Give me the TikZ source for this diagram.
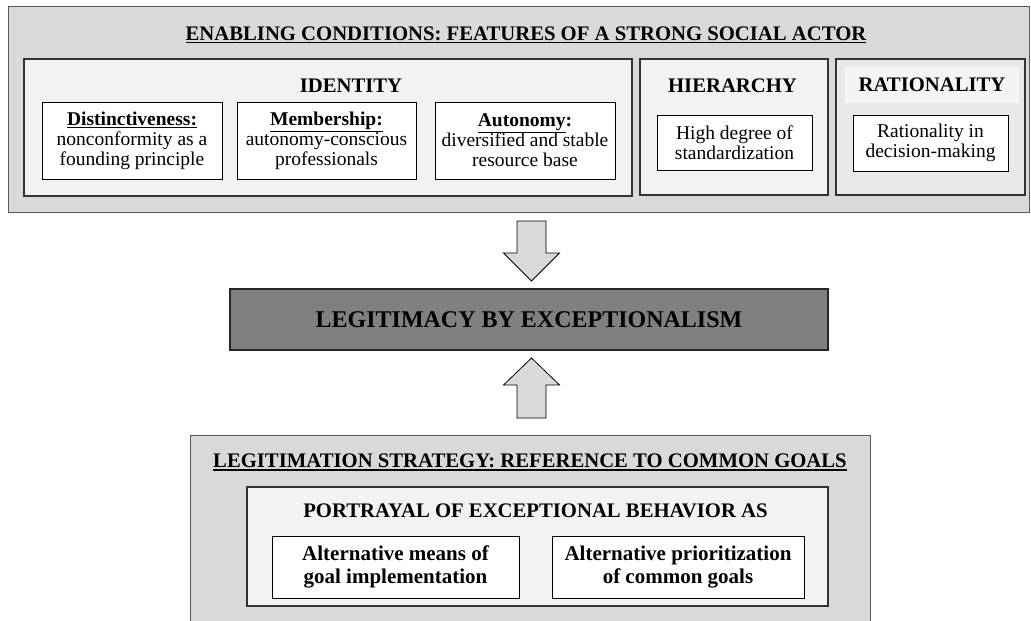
\documentclass[tikz,border=0pt]{standalone}
\usepackage{fontspec}
\setmainfont{Liberation Serif}
\usetikzlibrary{calc}
\definecolor{outerfill}{HTML}{D9D9D9}
\definecolor{midfill}{HTML}{F2F2F2}
\definecolor{ratfill}{HTML}{E9E9E9}
\definecolor{hlfill}{HTML}{F4F4F4}
\definecolor{legfill}{HTML}{808080}
\newcommand\myul[2]{\leavevmode\vtop{\hbox{#2}\kern1.6pt\hrule height #1}}
\begin{document}
\begin{tikzpicture}[x=1pt,y=-1pt,
  outerbox/.style={draw=black!65, line width=1pt, fill=outerfill, inner sep=0pt},
  midbox/.style={draw=black!80, line width=1.2pt, fill=midfill, inner sep=0pt},
  whitebox/.style={draw=black, line width=0.9pt, fill=white, inner sep=0pt, align=center,
    font=\fontsize{19.5}{20}\selectfont},
  boldbox/.style={draw=black, line width=0.9pt, fill=white, inner sep=0pt, align=center,
    font=\fontsize{21}{23}\selectfont\bfseries},
  head/.style={inner sep=0pt, anchor=base, font=\fontsize{20.7}{22}\selectfont\bfseries},
  legbox/.style={draw=black!85, line width=2pt, fill=legfill, inner sep=0pt,
    font=\fontsize{24}{26}\selectfont\bfseries},
  barrow/.style={draw=black, line width=0.8pt, fill=outerfill, line join=miter}
]
\useasboundingbox (0,0) rectangle (1031,621);
\begin{scope}
\clip (0,0) rectangle (1031,621);
% top section
\node[outerbox, minimum width=1021pt, minimum height=206pt] (top) at (518.5,109) {};
\node[head] (toptitle) at (526,40) {\myul{0.9pt}{ENABLING CONDITIONS: FEATURES OF A STRONG SOCIAL ACTOR}};
\node[midbox, minimum width=608pt, minimum height=137pt] (identity) at (328,127.5) {};
\node[midbox, minimum width=188pt, minimum height=136pt] (hierarchy) at (734,127) {};
\node[midbox, fill=ratfill, minimum width=189pt, minimum height=136pt] (rationality) at (930.5,127) {};
\node[head] (idtitle) at (351,92) {IDENTITY};
\node[head] (hitittle) at (732.5,92) {HIERARCHY};
\node[fill=hlfill, inner sep=0pt, minimum width=174pt, minimum height=36pt,
  font=\fontsize{20.7}{22}\selectfont\bfseries] (rattitle) at (932,85) {RATIONALITY};
\node[whitebox, minimum width=180pt, minimum height=77pt] (dist) at (132,140.5)
  {\textbf{\underline{Distinctiveness:}}\\nonconformity as a\\founding principle};
\node[whitebox, minimum width=179pt, minimum height=77pt] (memb) at (326.5,140.5)
  {\textbf{\underline{Membership:}}\\autonomy-conscious\\professionals};
\node[whitebox, minimum width=180pt, minimum height=77pt] (auto) at (525,140.5)
  {\textbf{\underline{Autonomy}:}\\diversified and stable\\resource base};
\node[whitebox, minimum width=155pt, minimum height=55pt] (high) at (734.5,142.5)
  {High degree of\\standardization};
\node[whitebox, minimum width=155pt, minimum height=56pt] (ratin) at (930.5,143)
  {Rationality in\\decision-making};
% centre
\node[legbox, minimum width=598pt, minimum height=61pt] (legit) at (529,319.5)
  {LEGITIMACY BY EXCEPTIONALISM};
% bottom section
\node[outerbox, minimum width=680pt, minimum height=205pt] (bottom) at (530,537.5) {};
\node[head] (bottitle) at (530,467) {\myul{1.8pt}{LEGITIMATION STRATEGY: REFERENCE TO COMMON GOALS}};
\node[midbox, minimum width=581pt, minimum height=119pt] (portrayal) at (537.5,546.5) {};
\node[head] (portitle) at (535.5,517) {PORTRAYAL OF EXCEPTIONAL BEHAVIOR AS};
\node[boldbox, minimum width=247pt, minimum height=62pt] (alt1) at (395.5,567)
  {Alternative means of\\goal implementation};
\node[boldbox, minimum width=252pt, minimum height=62pt] (alt2) at (678,567)
  {Alternative prioritization\\of common goals};
% block arrows
\coordinate (d1) at (531.5,221);
\coordinate (d2) at (531.5,281);
\draw[barrow] ($(d1)+(-14.5,0)$) -- ($(d1)+(-14.5,32)$) -- ($(d1)+(-28,32)$) -- (d2)
  -- ($(d1)+(28,32)$) -- ($(d1)+(14.5,32)$) -- ($(d1)+(14.5,0)$) -- cycle;
\coordinate (u1) at (531.5,418);
\coordinate (u2) at (531.5,358);
\draw[barrow] ($(u1)+(-14.5,0)$) -- ($(u1)+(-14.5,-33)$) -- ($(u1)+(-28,-33)$) -- (u2)
  -- ($(u1)+(28,-33)$) -- ($(u1)+(14.5,-33)$) -- ($(u1)+(14.5,0)$) -- cycle;
\end{scope}
\end{tikzpicture}
\end{document}
